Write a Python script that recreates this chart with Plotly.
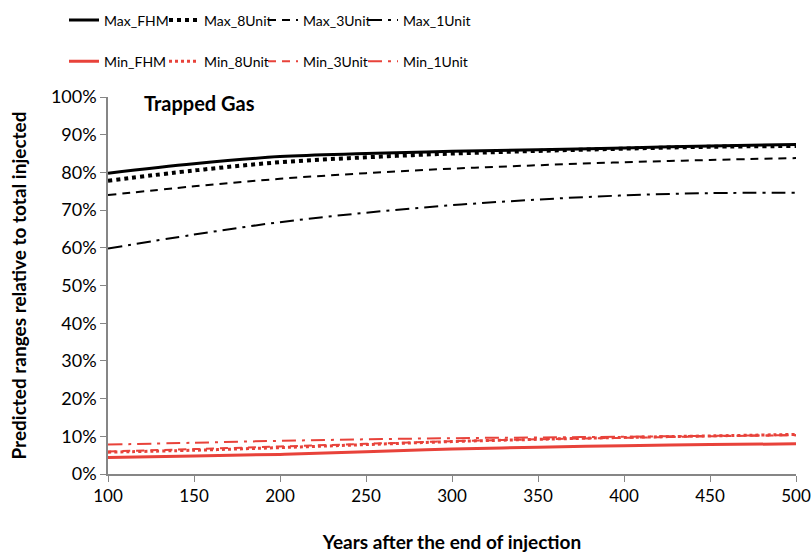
import plotly.graph_objects as go

years = [100, 150, 200, 250, 300, 350, 400, 450, 500]

max_fhm = [79.8, 82.3, 84.2, 85.0, 85.6, 86.0, 86.5, 87.0, 87.4]
max_8unit = [77.8, 80.5, 82.7, 84.0, 85.0, 85.7, 86.3, 86.8, 87.0]
max_3unit = [74.0, 76.3, 78.3, 79.8, 81.0, 81.9, 82.7, 83.3, 83.8]
max_1unit = [59.8, 63.5, 66.8, 69.3, 71.3, 72.8, 73.9, 74.5, 74.6]

min_fhm = [4.4, 4.8, 5.2, 5.9, 6.6, 7.1, 7.5, 7.8, 8.0]
min_8unit = [5.8, 6.3, 7.0, 7.8, 8.6, 9.2, 9.7, 10.1, 10.5]
min_3unit = [6.0, 6.6, 7.3, 8.0, 8.7, 9.2, 9.6, 10.0, 10.3]
min_1unit = [7.8, 8.3, 8.8, 9.2, 9.5, 9.7, 9.9, 10.1, 10.3]

y_ticks = [0, 10, 20, 30, 40, 50, 60, 70, 80, 90, 100]
y_ticklabels = [f"{v}%" for v in y_ticks]
x_ticks = [100, 150, 200, 250, 300, 350, 400, 450, 500]

BLACK = "#000000"
RED = "#E8423A"
FONT = "Lato, Open Sans, sans-serif"

# (name, values, colour, dash, width, legend column)
series = [
    ("Max_FHM", max_fhm, BLACK, "solid", 3, 0),
    ("Max_8Unit", max_8unit, BLACK, "dot", 4, 1),
    ("Max_3Unit", max_3unit, BLACK, "8px,6px", 2, 2),
    ("Max_1Unit", max_1unit, BLACK, "14px,6px,3px,6px", 2, 3),
    ("Min_FHM", min_fhm, RED, "solid", 3, 0),
    ("Min_8Unit", min_8unit, RED, "dot", 3, 1),
    ("Min_3Unit", min_3unit, RED, "8px,6px", 2, 2),
    ("Min_1Unit", min_1unit, RED, "14px,6px,3px,6px", 2, 3),
]

legend_keys = ["legend", "legend2", "legend3", "legend4"]
legend_cols_px = [64, 164, 263, 363]

fig = go.Figure()
for i, (name, vals, color, dash, width, col) in enumerate(series):
    fig.add_trace(go.Scatter(
        x=years, y=vals, name=name, mode="lines",
        line=dict(color=color, dash=dash, width=width, shape="spline"),
        legend=legend_keys[col], legendgroup=name, legendrank=i,
        cliponaxis=False,
    ))

legend_layouts = {}
for key, xpx in zip(legend_keys, legend_cols_px):
    legend_layouts[key] = dict(
        xref="container", yref="container",
        x=xpx / 812, y=1 - 41 / 553,
        xanchor="left", yanchor="middle",
        orientation="v", traceorder="grouped", tracegroupgap=20,
        font=dict(family=FONT, size=14, color="#000000"),
        bgcolor="rgba(0,0,0,0)", itemwidth=30,
    )

fig.update_layout(
    width=812, height=553,
    margin=dict(l=108, r=16, t=97, b=79, autoexpand=False),
    plot_bgcolor="white", paper_bgcolor="white",
    font=dict(family=FONT, size=17, color="#000000"),
    xaxis=dict(
        range=[100, 500], tickvals=x_ticks, automargin=False,
        showline=True, linecolor="#868686", linewidth=1.5,
        ticks="outside", tickcolor="#868686", ticklen=6,
        showgrid=False, zeroline=False,
        tickfont=dict(size=17),
        title=dict(text="<b>Years after the end of injection</b>", font=dict(size=19), standoff=38),
    ),
    yaxis=dict(
        range=[0, 100], tickvals=y_ticks, ticktext=y_ticklabels, automargin=False,
        showline=True, linecolor="#868686", linewidth=1.5,
        ticks="outside", tickcolor="#868686", ticklen=6,
        showgrid=False, zeroline=False,
        tickfont=dict(size=18),
    ),
    annotations=[
        dict(
            x=0.05, y=(474 - 103) / 377, xref="paper", yref="paper",
            xanchor="left", yanchor="middle",
            text="<b>Trapped Gas</b>", showarrow=False,
            font=dict(family=FONT, size=20, color="#000000"),
        ),
        dict(
            x=(18 - 108) / 688, y=0.5, xref="paper", yref="paper",
            xanchor="center", yanchor="middle", textangle=-90,
            text="<b>Predicted ranges relative to total injected</b>", showarrow=False,
            font=dict(family=FONT, size=19, color="#000000"),
        ),
    ],
    **legend_layouts,
)

fig.write_html("out.html")
